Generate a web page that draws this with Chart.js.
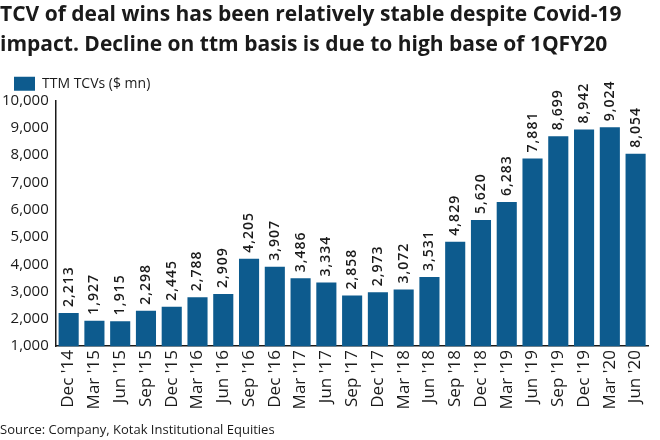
<!DOCTYPE html>
<html>
<head>
<meta charset="utf-8">
<script src="https://cdn.jsdelivr.net/npm/chart.js@4"></script>
<style>
  body { margin: 0; background: #fff; }
  #wrap { width: 660px; height: 440px; }
</style>
</head>
<body>
<div id="wrap"><canvas id="tcv"></canvas></div>
<script>
var quarters = ["Dec '14", "Mar '15", "Jun '15", "Sep '15", "Dec '15", "Mar '16", "Jun '16",
    "Sep '16", "Dec '16", "Mar '17", "Jun '17", "Sep '17", "Dec '17", "Mar '18", "Jun '18",
    "Sep '18", "Dec '18", "Mar '19", "Jun '19", "Sep '19", "Dec '19", "Mar '20", "Jun '20"];
var ttmTcv = [2213, 1927, 1915, 2298, 2445, 2788, 2909, 4205, 3907, 3486, 3334, 2858,
    2973, 3072, 3531, 4829, 5620, 6283, 7881, 8699, 8942, 9024, 8054];

const BAR_BLUE = "#0d5b8e";
const INK = "#1a1a1a";
const FONT = "'Open Sans', sans-serif";

// values written upright over each bar
const barLabels = {
    id: 'barLabels',
    afterDatasetsDraw: function (chart) {
        var ctx = chart.ctx;
        var meta = chart.getDatasetMeta(0);
        ctx.save();
        ctx.fillStyle = INK;
        ctx.font = "600 14px " + FONT;
        ctx.letterSpacing = "1px";
        ctx.textAlign = 'left';
        ctx.textBaseline = 'middle';
        meta.data.forEach(function (bar, i) {
            ctx.save();
            ctx.translate(bar.x, bar.y - 6);
            ctx.rotate(-Math.PI / 2);
            ctx.fillText(ttmTcv[i].toLocaleString('en-US'), 0, 0);
            ctx.restore();
        });
        ctx.restore();
    }
};

new Chart(document.getElementById("tcv"), {
    type: 'bar',
    data: {
        labels: quarters,
        datasets: [{
            label: "TTM TCVs ($ mn)",
            data: ttmTcv,
            backgroundColor: BAR_BLUE,
            borderWidth: 0,
            barPercentage: 0.78,
            categoryPercentage: 1
        }]
    },
    options: {
        responsive: true,
        maintainAspectRatio: false,
        animation: false,
        layout: { padding: { left: 0, right: 0, top: 0, bottom: 0 } },
        scales: {
            x: {
                grid: { display: false, drawTicks: false },
                border: { color: INK, width: 1.5 },
                ticks: {
                    color: INK,
                    font: { family: FONT, size: 17 },
                    maxRotation: 90,
                    minRotation: 90,
                    autoSkip: false,
                    padding: 4
                }
            },
            y: {
                min: 1000,
                max: 10000,
                grid: { display: false, drawTicks: true, tickLength: 5, tickColor: INK },
                border: { color: INK, width: 1.5 },
                ticks: {
                    stepSize: 1000,
                    color: INK,
                    font: { family: FONT, size: 15 },
                    padding: 2,
                    callback: function (v) { return v.toLocaleString('en-US'); }
                }
            }
        },
        plugins: {
            title: {
                display: true,
                text: ["TCV of deal wins has been relatively stable despite Covid-19",
                       "impact. Decline on ttm basis is due to high base of 1QFY20"],
                align: 'start',
                color: INK,
                font: { family: FONT, size: 21, weight: 'bold', lineHeight: 1.42 },
                padding: { top: 0, bottom: 3 }
            },
            legend: {
                align: 'start',
                labels: {
                    color: INK,
                    font: { family: FONT, size: 14 },
                    boxWidth: 21,
                    boxHeight: 14,
                    padding: 14
                }
            },
            subtitle: {
                display: true,
                position: 'bottom',
                align: 'start',
                text: "Source: Company, Kotak Institutional Equities",
                color: INK,
                font: { family: FONT, size: 13 },
                padding: { top: 9, bottom: 2 }
            },
            tooltip: { enabled: false }
        }
    },
    plugins: [barLabels]
});
</script>
</body>
</html>
